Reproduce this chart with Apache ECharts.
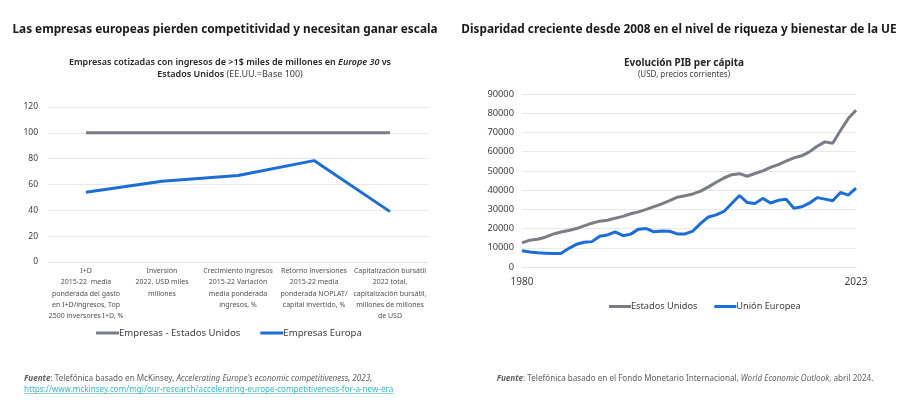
<!DOCTYPE html>
<html>
<head>
<meta charset="utf-8">
<script src="https://cdn.jsdelivr.net/npm/echarts@6/dist/echarts.min.js"></script>
<style>
html,body{margin:0;padding:0;background:#fff;}
#c{width:900px;height:407px;}
</style>
</head>
<body>
<div id="c"></div>
<script>
// Left chart data
const leftCategories = [
  "I+D\n2015-22  media\nponderada del gasto\nen I+D/ingresos, Top\n2500 inversores I+D, %",
  "Inversión\n2022, USD miles\nmillones",
  "Crecimiento ingresos\n2015-22 Variación\nmedia ponderada\ningresos, %",
  "Retorno inversiones\n2015-22 media\nponderada NOPLAT/\ncapital invertido, %",
  "Capitalización bursátil\n2022 total,\ncapitalización bursátil,\nmillones de millones\nde USD"
];
const empresasEEUU = [100, 100, 100, 100, 100];
const empresasEuropa = [54, 62.5, 67, 78.5, 39];

// Right chart data
const years = [];
for (let y = 1980; y <= 2023; y++) years.push(String(y));
const pibEEUU = [12550, 13950, 14400, 15500, 17100, 18200, 19000, 20000, 21400, 22800,
  23850, 24300, 25400, 26350, 27700, 28700, 30000, 31450, 32850, 34500,
  36300, 37100, 38000, 39500, 41700, 44100, 46300, 48050, 48550, 47200,
  48650, 50050, 51800, 53300, 55100, 56750, 57850, 59900, 62800, 65100,
  64400, 71000, 77200, 81600];
const pibUE = [8500, 7800, 7400, 7200, 7000, 7000, 9600, 11800, 12900, 13200,
  16000, 16700, 18300, 16300, 17100, 19700, 20000, 18300, 18700, 18600,
  17200, 17200, 18700, 22700, 26000, 27100, 28900, 33000, 37200, 33500,
  33000, 35700, 33300, 34700, 35300, 30600, 31300, 33200, 36100, 35300,
  34500, 38800, 37400, 41000];

const FONT = "Noto Sans";
const gray = "#7a7d88";
const blue = "#1c6dd6";
const txt = "#404040";
const note = "#606060";
const link = "#3fb8c0";

function rs(extra) {
  return Object.assign({fontFamily: FONT, fontWeight: 'normal', fontStyle: 'normal'}, extra);
}

const chart = echarts.init(document.getElementById('c'), null, {renderer: 'canvas'});
chart.setOption({
  animation: false,
  textStyle: {fontFamily: FONT},
  title: [
    {text: "Las empresas europeas pierden competitividad y necesitan ganar escala",
     left: 220, top: 19, textAlign: 'center',
     textStyle: {fontFamily: FONT, fontSize: 11.8, fontWeight: 'bold', color: '#1a1a1a'}},
    {text: "Disparidad creciente desde 2008 en el nivel de riqueza y bienestar de la UE",
     left: 674, top: 19, textAlign: 'center',
     textStyle: {fontFamily: FONT, fontSize: 11.8, fontWeight: 'bold', color: '#1a1a1a'}},
    {text: "{b|Empresas cotizadas con ingresos de >1$ miles de millones en }{bi|Europe 30}{b| vs}\n{b|Estados Unidos}{n| (EE.UU.=Base 100)}",
     left: 225, top: 51, textAlign: 'center',
     textStyle: {fontFamily: FONT, fontWeight: 'normal', lineHeight: 12,
       rich: {
         b: rs({fontSize: 9, fontWeight: 600, color: '#262626', lineHeight: 12}),
         bi: rs({fontSize: 9, fontWeight: 600, fontStyle: 'italic', color: '#262626', lineHeight: 12}),
         n: rs({fontSize: 9, color: '#404040', lineHeight: 12})
       }}},
    {text: "Evolución PIB per cápita",
     left: 679, top: 53, textAlign: 'center',
     textStyle: {fontFamily: FONT, fontSize: 10, fontWeight: 'bold', color: '#262626'}},
    {text: "(USD, precios corrientes)",
     left: 679, top: 66, textAlign: 'center',
     textStyle: {fontFamily: FONT, fontSize: 8, fontWeight: 'normal', color: '#404040'}},
    {text: "{bi|Fuente}{n|: Telefónica basado en McKinsey, }{i|Accelerating Europe's economic competitiveness, 2023,}\n{l|https://www.mckinsey.com/mgi/our-research/accelerating-europe-competitiveness-for-a-new-era}",
     left: 19, top: 368,
     textStyle: {fontFamily: FONT, fontWeight: 'normal', lineHeight: 11,
       rich: {
         bi: rs({fontSize: 8.1, fontWeight: 'bold', fontStyle: 'italic', color: note, lineHeight: 11}),
         n: rs({fontSize: 8.1, color: note, lineHeight: 11}),
         i: rs({fontSize: 8.1, fontStyle: 'italic', color: note, lineHeight: 11}),
         l: rs({fontSize: 8.1, color: link, lineHeight: 11})
       }}},
    {text: "{bi|Fuente}{n|: Telefónica basado en el Fondo Monetario Internacional, }{i|World Economic Outlook}{n|, abril 2024.}",
     left: 680, top: 370, textAlign: 'center',
     textStyle: {fontFamily: FONT, fontWeight: 'normal',
       rich: {
         bi: rs({fontSize: 8.1, fontWeight: 'bold', fontStyle: 'italic', color: note}),
         n: rs({fontSize: 8.1, color: note}),
         i: rs({fontSize: 8.1, fontStyle: 'italic', color: note})
       }}}
  ],
  legend: [
    {data: ["Empresas - Estados Unidos", "Empresas Europa"],
     left: 91, top: 323, itemWidth: 23, itemHeight: 3, itemGap: 20, icon: 'rect',
     textStyle: {fontFamily: FONT, fontSize: 9.6, color: txt, padding: [0, 0, 0, -5]}},
    {data: ["Estados Unidos", "Unión Europea"],
     left: 604, top: 297, itemWidth: 22, itemHeight: 3, itemGap: 17, icon: 'rect',
     textStyle: {fontFamily: FONT, fontSize: 9.2, color: txt, padding: [0, 0, 0, -5]}}
  ],
  grid: [
    {left: 48, right: 472, top: 107, bottom: 145, containLabel: false},
    {left: 522, right: 44, top: 94, bottom: 140, containLabel: false}
  ],
  xAxis: [
    {type: 'category', gridIndex: 0, data: leftCategories, boundaryGap: true,
     axisLine: {show: true, lineStyle: {color: '#e3e3e3'}}, axisTick: {show: false},
     axisLabel: {interval: 0, fontFamily: FONT, fontSize: 7, lineHeight: 11.4, color: '#505050', margin: 3}},
    {type: 'category', gridIndex: 1, data: years, boundaryGap: false,
     axisLine: {show: true, lineStyle: {color: '#e3e3e3'}}, axisTick: {show: false},
     axisLabel: {interval: function (i) { return i === 0 || i === years.length - 1; },
       fontFamily: FONT, fontSize: 10, color: txt, margin: 10}}
  ],
  yAxis: [
    {type: 'value', gridIndex: 0, min: 0, max: 120, interval: 20,
     axisLine: {show: false}, axisTick: {show: false},
     splitLine: {lineStyle: {color: '#e8e8e8'}},
     axisLabel: {fontFamily: FONT, fontSize: 8.5, color: txt, margin: 10}},
    {type: 'value', gridIndex: 1, min: 0, max: 90000, interval: 10000,
     axisLine: {show: false}, axisTick: {show: false},
     splitLine: {lineStyle: {color: '#e8e8e8'}},
     axisLabel: {fontFamily: FONT, fontSize: 9.3, color: txt, margin: 8,
       formatter: function (v) { return String(v); }}}
  ],
  series: [
    {name: "Empresas - Estados Unidos", type: 'line', xAxisIndex: 0, yAxisIndex: 0, data: empresasEEUU,
     showSymbol: false, symbol: 'none', lineStyle: {color: gray, width: 3}, itemStyle: {color: gray}},
    {name: "Empresas Europa", type: 'line', xAxisIndex: 0, yAxisIndex: 0, data: empresasEuropa,
     showSymbol: false, symbol: 'none', lineStyle: {color: blue, width: 3}, itemStyle: {color: blue}},
    {name: "Estados Unidos", type: 'line', xAxisIndex: 1, yAxisIndex: 1, data: pibEEUU,
     showSymbol: false, symbol: 'none', lineStyle: {color: gray, width: 3}, itemStyle: {color: gray}},
    {name: "Unión Europea", type: 'line', xAxisIndex: 1, yAxisIndex: 1, data: pibUE,
     showSymbol: false, symbol: 'none', lineStyle: {color: blue, width: 3}, itemStyle: {color: blue}}
  ],
  graphic: [
    {type: 'line', shape: {x1: 24, y1: 393.5, x2: 394, y2: 393.5}, style: {stroke: link, lineWidth: 0.6}, silent: true}
  ]
});
</script>
</body>
</html>
